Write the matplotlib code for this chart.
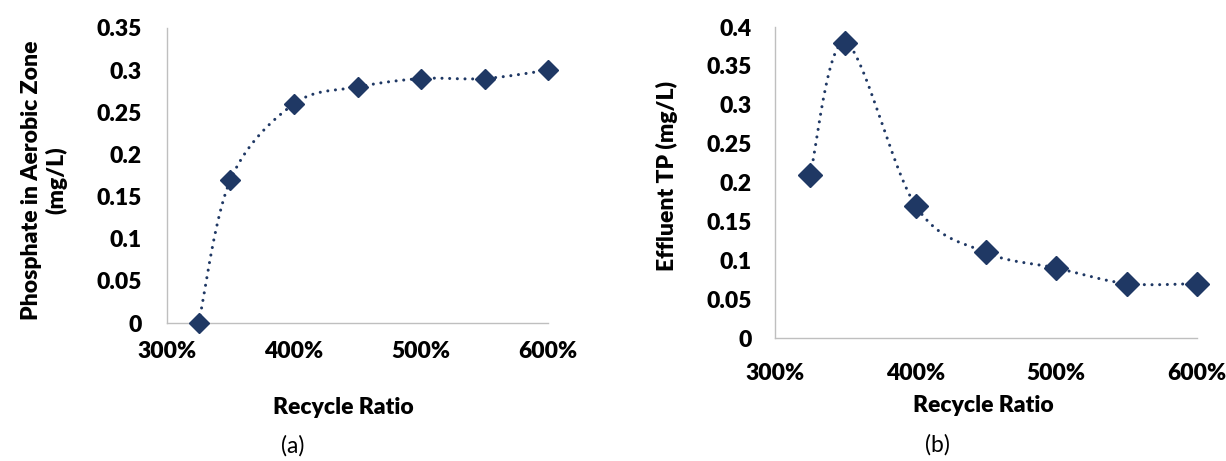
import numpy as np
import matplotlib.pyplot as plt

plt.rcParams['font.family'] = ['Lato', 'DejaVu Sans']

# data
ratio = [325, 350, 400, 450, 500, 550, 600]          # recycle ratio, %
phosphate = [0, 0.17, 0.26, 0.28, 0.29, 0.29, 0.30]  # aerobic zone, mg/L
effluent_tp = [0.21, 0.38, 0.17, 0.11, 0.09, 0.07, 0.07]  # mg/L

x_ticks = [300, 400, 500, 600]
navy = '#1f3864'
grey = '#bfbfbf'
fs = 16.5
fw = 'heavy'


def smooth_curve(x, y, xlim, ylim, w, h, n=40):
    # excel-like smoothed line (cardinal bezier), worked out in pixel space
    px = (np.asarray(x, float) - xlim[0]) / (xlim[1] - xlim[0]) * w
    py = (np.asarray(y, float) - ylim[0]) / (ylim[1] - ylim[0]) * h
    P = np.column_stack([px, py])
    P = np.vstack([P[0], P, P[-1]])
    t = np.linspace(0, 1, n)[:, None]
    out = []
    for i in range(1, len(P) - 2):
        p0, p1, p2, p3 = P[i - 1], P[i], P[i + 1], P[i + 2]
        c1 = p1 + (p2 - p0) / 6
        c2 = p2 - (p3 - p1) / 6
        seg = ((1 - t) ** 3) * p1 + 3 * ((1 - t) ** 2) * t * c1 + 3 * (1 - t) * t ** 2 * c2 + t ** 3 * p2
        out.append(seg if i == 1 else seg[1:])
    out = np.vstack(out)
    sx = out[:, 0] / w * (xlim[1] - xlim[0]) + xlim[0]
    sy = out[:, 1] / h * (ylim[1] - ylim[0]) + ylim[0]
    return sx, sy


fig = plt.figure(figsize=(12.26, 4.61), dpi=100)
ax1 = fig.add_axes([0.1362, 0.2993, 0.3108, 0.64])
ax2 = fig.add_axes([0.6322, 0.2668, 0.3441, 0.6746])

panels = [
    (ax1, phosphate, (0, 0.35), np.arange(0, 0.351, 0.05), ['0', '0.05', '0.1', '0.15', '0.2', '0.25', '0.3', '0.35'], 10.5, 13, 18),
    (ax2, effluent_tp, (0, 0.4), np.arange(0, 0.401, 0.05), ['0', '0.05', '0.1', '0.15', '0.2', '0.25', '0.3', '0.35', '0.4'], 12, 18, 17),
]

for ax, vals, ylim, yt, ylabels, ms, xpad, ypad in panels:
    bb = ax.get_position()
    w, h = bb.width * 1226, bb.height * 461
    sx, sy = smooth_curve(ratio, vals, (300, 600), ylim, w, h)
    ax.plot(sx, sy, color=navy, lw=2.2, linestyle=(0, (0.01, 2.5)),
            dash_capstyle='round', clip_on=False, zorder=2)
    ax.plot(ratio, vals, 'D', color=navy, ms=ms, mec=navy, clip_on=False, zorder=3)
    ax.set_xlim(300, 600)
    ax.set_ylim(*ylim)
    ax.set_xticks(x_ticks)
    ax.set_xticklabels([f'{v}%' for v in x_ticks])
    ax.set_yticks(yt)
    ax.set_yticklabels(ylabels)
    for s in ['top', 'right']:
        ax.spines[s].set_visible(False)
    for s in ['left', 'bottom']:
        ax.spines[s].set_color(grey)
        ax.spines[s].set_linewidth(1)
    ax.tick_params(axis='x', length=0, pad=xpad, labelsize=fs)
    ax.tick_params(axis='y', length=0, pad=ypad, labelsize=fs)
    for lab in ax.get_xticklabels() + ax.get_yticklabels():
        lab.set_fontweight(fw)

ax1.set_ylabel('Phosphate in Aerobic Zone\n(mg/L)', fontsize=fs, fontweight=fw, linespacing=1.15)
ax1.yaxis.set_label_coords(-0.262, 0.485)
ax2.set_ylabel('Effluent TP (mg/L)', fontsize=fs, fontweight=fw)
ax2.yaxis.set_label_coords(-0.23, 0.52)

fig.text(343 / 1226, 1 - 407 / 461, 'Recycle Ratio', fontsize=fs, fontweight=fw, ha='center', va='center')
fig.text(983 / 1226, 1 - 405 / 461, 'Recycle Ratio', fontsize=fs, fontweight=fw, ha='center', va='center')
fig.text(293 / 1226, 1 - 446 / 461, '(a)', fontsize=fs, ha='center', va='center')
fig.text(937 / 1226, 1 - 445 / 461, '(b)', fontsize=fs, ha='center', va='center')

fig.savefig('out.png', dpi=100)
